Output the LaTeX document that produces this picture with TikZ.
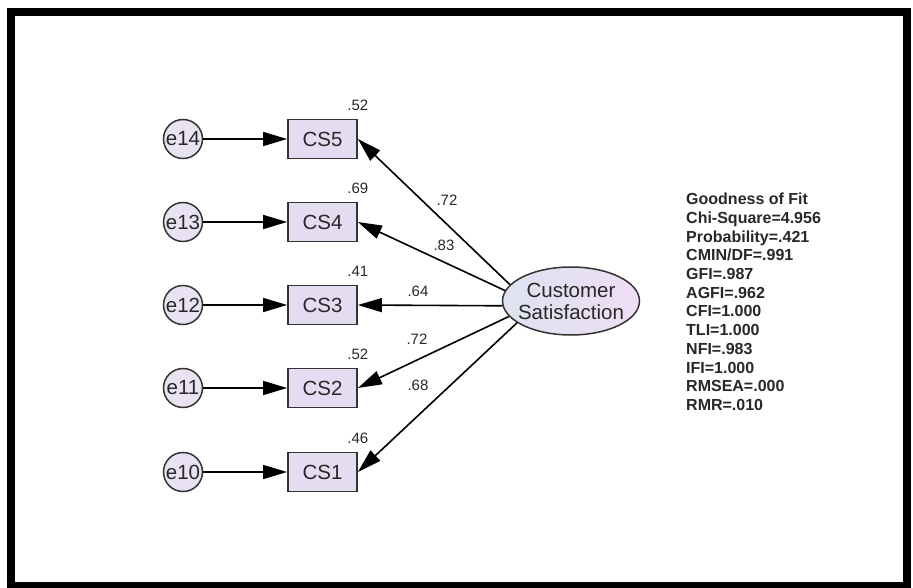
\documentclass[tikz,border=0pt]{standalone}
\usepackage{fontspec}
\setmainfont{Liberation Sans}
\usetikzlibrary{shapes.geometric,arrows.meta}
\definecolor{boxfill}{RGB}{228,220,240}
\definecolor{errfill}{RGB}{232,226,242}
\definecolor{latleft}{RGB}{222,226,240}
\definecolor{latright}{RGB}{238,222,245}
\definecolor{txt}{RGB}{40,40,40}
\begin{document}
\begin{tikzpicture}[x=1pt, y=-1pt,
	obsbox/.style={draw=black!80, line width=1.8pt, fill=boxfill, minimum width=69pt, minimum height=39pt, inner sep=0pt, text=txt, font=\fontsize{20.5}{22}\selectfont},
	errcirc/.style={circle, draw=black!80, line width=1.5pt, fill=errfill, minimum size=39pt, inner sep=0pt, text=txt, font=\fontsize{20.5}{22}\selectfont},
	latent/.style={ellipse, draw=black!80, line width=1.5pt, left color=latleft, right color=latright, minimum width=137pt, minimum height=68pt, inner xsep=-5pt, inner ysep=0pt, align=center, text=txt, font=\fontsize{20.5}{22}\selectfont},
	arr/.style={line width=1.6pt, -{Triangle[length=24pt, width=14pt]}},
	numlbl/.style={inner sep=0pt, text=txt, font=\fontsize{15}{17}\selectfont}]
	% khung ngoai
	\useasboundingbox (0,0) rectangle (913,588);
	\fill[white] (0,0) rectangle (913,588);
	\draw[line width=8pt] (11,12) rectangle (907,586);
	% bien tiem an
	\node[latent] (cust) at (571,301) {Customer\\Satisfaction};
	% cac bien quan sat va sai so
	\foreach \i/\e/\v/\y in {5/14/.52/139, 4/13/.69/222, 3/12/.41/305, 2/11/.52/388, 1/10/.46/472} {
		\node[errcirc] (e\e) at (183,\y) {e\e};
		\node[obsbox] (cs\i) at (322.5,\y) {CS\i};
		\node[numlbl, anchor=base] (r\i) at ([yshift=8pt]cs\i.north east) {\v};
		\draw[arr] (e\e) -- (cs\i);
	}
	% he so tai nhan to
	\foreach \i/\a/\w/\x/\y in {5/165/.72/447/200, 4/171/.83/444/245, 3/184/.64/418/291, 2/194/.72/417/339, 1/202/.68/418/385} {
		\draw[arr] (cust.\a) -- (cs\i.east);
		\node[numlbl] (w\i) at (\x,\y) {\w};
	}
	% chi so phu hop
	\node[anchor=north west, inner sep=0pt, align=left, text=txt, font=\bfseries\fontsize{16}{18.7}\selectfont] (fit) at (686,193) {Goodness of Fit\\Chi-Square=4.956\\Probability=.421\\CMIN/DF=.991\\GFI=.987\\AGFI=.962\\CFI=1.000\\TLI=1.000\\NFI=.983\\IFI=1.000\\RMSEA=.000\\RMR=.010};
\end{tikzpicture}
\end{document}
